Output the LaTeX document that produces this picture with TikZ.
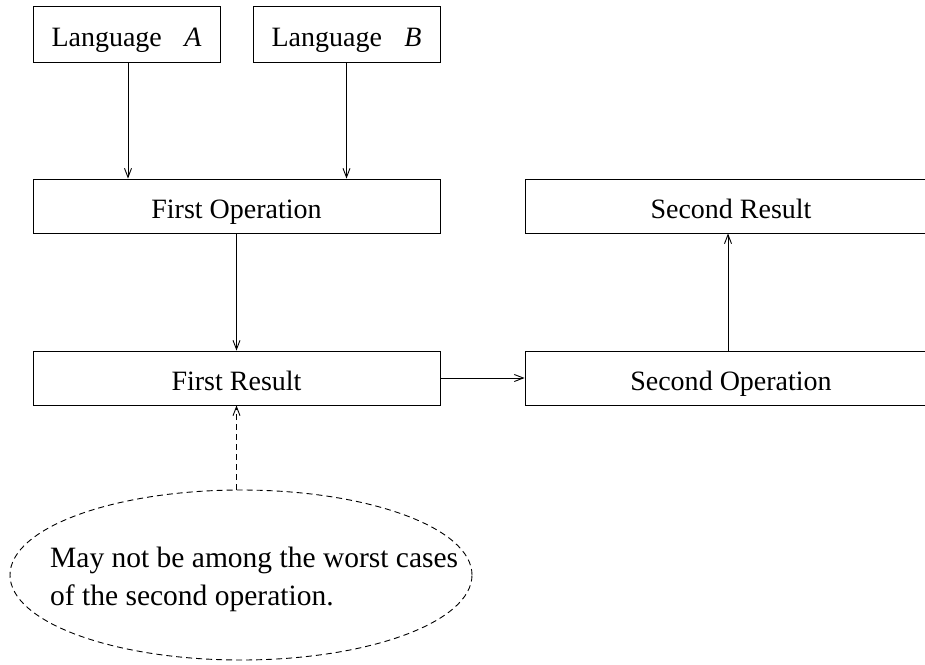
\documentclass[tikz,border=0pt]{standalone}
\usepackage{fontspec}
\setmainfont{Liberation Serif}
\usetikzlibrary{arrows.meta,shapes.geometric}

\tikzset{
  box/.style={draw, line width=0.9pt, rectangle, inner sep=0pt,
    text height=24pt, text depth=0pt,
    font=\fontsize{28}{38}\selectfont},
  arr/.style={line width=0.9pt, -{Straight Barb[length=9pt,width=7pt,line width=0.9pt]}},
  dasharr/.style={arr, dash pattern=on 6pt off 4pt},
  note/.style={draw, ellipse, line width=0.9pt, dash pattern=on 6pt off 4pt, inner sep=0pt},
  notetext/.style={font=\fontsize{29.5}{38}\selectfont, align=left, inner sep=0pt}
}

\begin{document}
\begin{tikzpicture}[x=1pt, y=-1pt]
  \useasboundingbox (0,0) rectangle (925,664);

  % source languages
  \node[box, minimum width=187pt, minimum height=56pt] (la) at (126.5,34) {Language\hspace{0.8em}\textit{A}};
  \node[box, minimum width=187pt, minimum height=56pt] (lb) at (346.5,34) {Language\hspace{0.8em}\textit{B}};

  % operations and results
  \node[box, minimum width=407pt, minimum height=54pt] (fo) at (236.5,206) {First Operation};
  \node[box, minimum width=407pt, minimum height=54pt] (fr) at (236.5,378) {First Result};
  \node[box, minimum width=412pt, minimum height=54pt] (sr) at (731,206) {Second Result};
  \node[box, minimum width=412pt, minimum height=54pt] (so) at (731,378) {Second Operation};

  % remark
  \node[note, minimum width=462pt, minimum height=170pt] (ell) at (241,575) {};
  \node[notetext, anchor=base west] (txt) at (50,605) {May not be among the worst cases\\of the second operation.};

  % connectors
  \draw[arr] ([xshift=1.5pt]la.south) -- ([xshift=1.5pt]la.south |- fo.north);
  \draw[arr] (lb.south) -- (lb.south |- fo.north);
  \draw[arr] (fo.south) -- (fr.north);
  \draw[arr] (fr.east) -- (so.west);
  \draw[arr] ([xshift=-3pt]so.north) -- ([xshift=-3pt]sr.south);
  \draw[dasharr] (fr.south |- ell.north) -- (fr.south);
\end{tikzpicture}
\end{document}
